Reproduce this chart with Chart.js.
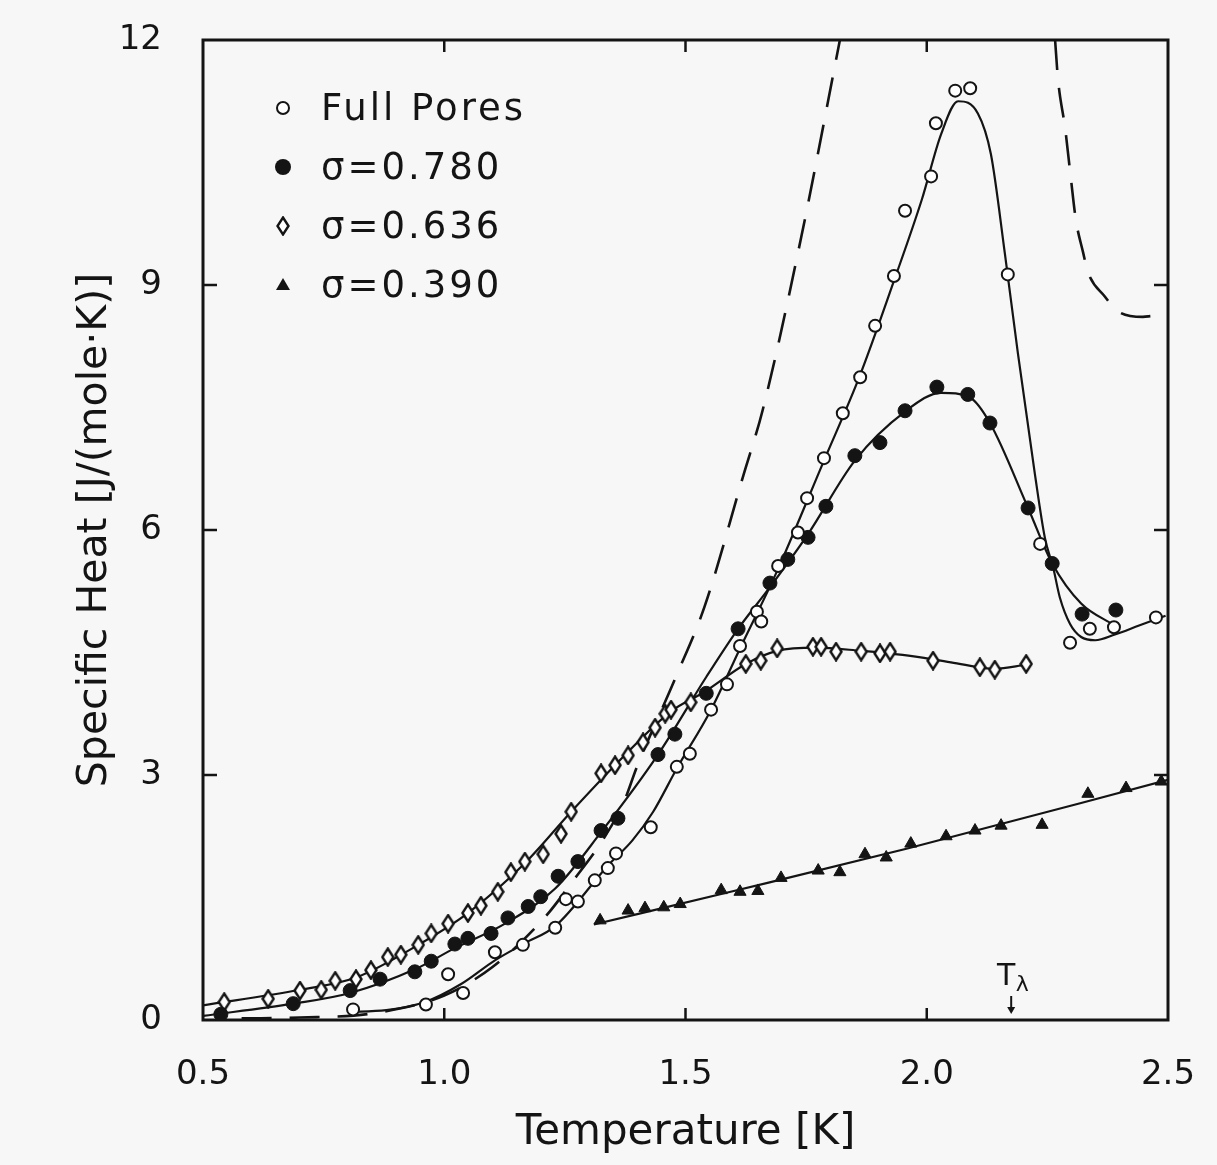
<!DOCTYPE html>
<html>
<head>
<meta charset="utf-8">
<script src="https://cdn.jsdelivr.net/npm/chart.js@4/dist/chart.umd.min.js"></script>
<style>
  html, body { margin: 0; padding: 0; background: #f7f7f7; }
  #wrap { width: 1217px; height: 1165px; }
</style>
</head>
<body>
<div id="wrap"><canvas id="heat" width="1217" height="1165"></canvas></div>
<script>
// measured points: temperature [K] and specific heat [J/(mole K)]
const fullT = [0.811, 0.962, 1.008, 1.039, 1.105, 1.163, 1.230, 1.252, 1.277, 1.312, 1.339, 1.356, 1.428, 1.482, 1.509,
  1.553, 1.586, 1.613, 1.648, 1.657, 1.692, 1.733, 1.752, 1.787, 1.826, 1.862, 1.893, 1.932, 1.955, 2.009, 2.019,
  2.059, 2.090, 2.168, 2.235, 2.297, 2.338, 2.388, 2.475];
const fullC = [0.13, 0.19, 0.56, 0.33, 0.83, 0.92, 1.13, 1.48, 1.45, 1.71, 1.86, 2.04, 2.36, 3.10, 3.26,
  3.80, 4.11, 4.58, 5.00, 4.88, 5.56, 5.97, 6.39, 6.88, 7.43, 7.87, 8.50, 9.11, 9.91, 10.33, 10.98,
  11.38, 11.41, 9.13, 5.83, 4.62, 4.79, 4.81, 4.93];

const s780T = [0.537, 0.687, 0.805, 0.867, 0.939, 0.973, 1.022, 1.049, 1.097, 1.132, 1.174, 1.200, 1.236, 1.277, 1.325,
  1.360, 1.443, 1.478, 1.543, 1.609, 1.675, 1.712, 1.754, 1.791, 1.851, 1.903, 1.955, 2.021, 2.085, 2.131, 2.210,
  2.260, 2.322, 2.392];
const s780C = [0.07, 0.20, 0.36, 0.50, 0.59, 0.72, 0.93, 1.00, 1.06, 1.25, 1.39, 1.51, 1.76, 1.94, 2.32,
  2.47, 3.25, 3.50, 4.00, 4.79, 5.35, 5.64, 5.91, 6.29, 6.91, 7.07, 7.46, 7.75, 7.66, 7.31, 6.27,
  5.59, 4.97, 5.02];

const s636T = [0.544, 0.635, 0.701, 0.745, 0.774, 0.817, 0.848, 0.883, 0.910, 0.946, 0.973, 1.008, 1.049, 1.076, 1.111,
  1.138, 1.167, 1.205, 1.242, 1.263, 1.325, 1.354, 1.381, 1.412, 1.437, 1.458, 1.470, 1.511, 1.625, 1.656, 1.690,
  1.764, 1.781, 1.812, 1.864, 1.903, 1.924, 2.013, 2.110, 2.141, 2.206];
const s636C = [0.22, 0.26, 0.36, 0.37, 0.48, 0.50, 0.61, 0.77, 0.80, 0.92, 1.06, 1.18, 1.31, 1.40, 1.57,
  1.81, 1.94, 2.03, 2.28, 2.55, 3.02, 3.12, 3.24, 3.40, 3.58, 3.75, 3.80, 3.89, 4.36, 4.40, 4.55,
  4.57, 4.57, 4.51, 4.51, 4.49, 4.51, 4.40, 4.32, 4.29, 4.36];

const s390T = [1.323, 1.381, 1.416, 1.455, 1.489, 1.574, 1.613, 1.650, 1.698, 1.775, 1.820, 1.872, 1.916, 1.967, 2.040,
  2.100, 2.154, 2.239, 2.334, 2.413, 2.486];
const s390C = [1.22, 1.34, 1.37, 1.38, 1.42, 1.59, 1.57, 1.58, 1.74, 1.83, 1.81, 2.03, 1.99, 2.16, 2.25,
  2.32, 2.38, 2.39, 2.77, 2.84, 2.92];

// smooth curves drawn through each set
const fullFitT = [0.80, 0.88, 0.96, 1.035, 1.105, 1.167, 1.23, 1.339, 1.39, 1.433, 1.482, 1.553, 1.613, 1.69, 1.787, 1.862,
  1.932, 1.99, 2.03, 2.065, 2.106, 2.133, 2.162, 2.189, 2.224, 2.245, 2.262, 2.276, 2.297, 2.32, 2.349, 2.39, 2.44, 2.495];
const fullFitC = [0.10, 0.12, 0.22, 0.44, 0.73, 0.94, 1.15, 1.89, 2.20, 2.55, 3.08, 3.80, 4.55, 5.50, 6.85, 7.90,
  9.05, 10.05, 10.85, 11.25, 11.10, 10.60, 9.38, 8.16, 6.69, 5.90, 5.54, 5.17, 4.85, 4.69, 4.65, 4.72, 4.83, 4.95];

const s780FitT = [0.5, 0.687, 0.805, 0.939, 1.022, 1.126, 1.23, 1.325, 1.443, 1.543, 1.609, 1.675, 1.754, 1.851, 1.955,
  2.03, 2.09, 2.131, 2.21, 2.26, 2.32, 2.39];
const s780FitC = [0.05, 0.20, 0.33, 0.62, 0.88, 1.18, 1.61, 2.30, 3.25, 4.20, 4.79, 5.30, 5.95, 6.85, 7.45,
  7.68, 7.62, 7.31, 6.27, 5.59, 5.10, 4.83];

const s636FitT = [0.5, 0.701, 0.817, 0.946, 1.049, 1.167, 1.263, 1.354, 1.47, 1.54, 1.625, 1.69, 1.77, 1.864, 1.95,
  2.05, 2.141, 2.206];
const s636FitC = [0.18, 0.37, 0.52, 0.92, 1.31, 1.92, 2.55, 3.12, 3.78, 4.02, 4.36, 4.52, 4.56, 4.52, 4.47,
  4.38, 4.30, 4.35];

const s390FitT = [1.31, 1.60, 1.96, 2.50];
const s390FitC = [1.17, 1.58, 2.10, 2.94];

// dashed bulk curve, below and above the lambda point
const bulkLowT = [0.58, 0.70, 0.85, 1.00, 1.10, 1.20, 1.25, 1.37, 1.40, 1.48, 1.54, 1.62, 1.66, 1.74, 1.82];
const bulkLowC = [0.02, 0.03, 0.08, 0.30, 0.65, 1.20, 1.57, 2.64, 3.11, 4.20, 5.07, 6.67, 7.47, 9.59, 12.0];
const bulkHighT = [2.266, 2.272, 2.287, 2.299, 2.309, 2.324, 2.334, 2.369, 2.396, 2.448, 2.465];
const bulkHighC = [12.0, 11.52, 10.91, 10.29, 9.80, 9.40, 9.16, 8.86, 8.68, 8.61, 8.62];

const xTicks = [0.5, 1.0, 1.5, 2.0, 2.5];
const yTicks = [0, 3, 6, 9, 12];
const T_LAMBDA = 2.175;

const legendLabels = ['Full Pores', 'σ=0.780', 'σ=0.636', 'σ=0.390'];

const INK = '#141414';
const FONT = 'DejaVu Sans';

const pts = (xs, ys) => xs.map((x, i) => ({ x, y: ys[i] }));

function diamondImg() {
  const c = document.createElement('canvas');
  c.width = 14; c.height = 20;
  const g = c.getContext('2d');
  g.beginPath();
  g.moveTo(7, 1.5); g.lineTo(12.5, 10); g.lineTo(7, 18.5); g.lineTo(1.5, 10); g.closePath();
  g.fillStyle = '#fff'; g.fill();
  g.lineWidth = 2.4; g.strokeStyle = INK; g.stroke();
  return c;
}
const diamond = diamondImg();

const markerSets = [
  { data: pts(fullT, fullC), pointStyle: 'circle', pointRadius: 6, pointBackgroundColor: '#fff', pointBorderWidth: 2 },
  { data: pts(s780T, s780C), pointStyle: 'circle', pointRadius: 7, pointBackgroundColor: INK, pointBorderWidth: 1 },
  { data: pts(s636T, s636C), pointStyle: diamond, pointRadius: 8, pointBackgroundColor: '#fff', pointBorderWidth: 0 },
  { data: pts(s390T, s390C), pointStyle: 'triangle', pointRadius: 7, pointBackgroundColor: INK, pointBorderWidth: 1 }
].map(d => Object.assign({ showLine: false, pointBorderColor: INK, pointHoverRadius: d.pointRadius }, d));

const curve = (xs, ys, dash) => ({
  data: pts(xs, ys), showLine: true, pointRadius: 0, borderColor: INK, borderWidth: dash ? 2.6 : 2.2,
  cubicInterpolationMode: 'monotone', borderDash: dash || []
});

const lineSets = [
  curve(fullFitT, fullFitC), curve(s780FitT, s780FitC), curve(s636FitT, s636FitC), curve(s390FitT, s390FitC),
  curve(bulkLowT, bulkLowC, [30, 18]), curve(bulkHighT, bulkHighC, [30, 18])
];

// box frame and inward tick marks
const framePlugin = {
  id: 'frame',
  afterDatasetsDraw(chart) {
    const { ctx, chartArea: a, scales } = chart;
    ctx.save();
    ctx.strokeStyle = INK;
    ctx.lineWidth = 2.5;
    xTicks.slice(1, -1).forEach(v => {
      const x = scales.x.getPixelForValue(v);
      ctx.beginPath();
      ctx.moveTo(x, a.bottom); ctx.lineTo(x, a.bottom - 12);
      ctx.moveTo(x, a.top); ctx.lineTo(x, a.top + 12);
      ctx.stroke();
    });
    yTicks.slice(1, -1).forEach(v => {
      const y = scales.y.getPixelForValue(v);
      ctx.beginPath();
      ctx.moveTo(a.left, y); ctx.lineTo(a.left + 14, y);
      ctx.moveTo(a.right, y); ctx.lineTo(a.right - 14, y);
      ctx.stroke();
    });
    ctx.lineWidth = 3;
    ctx.strokeRect(a.left, a.top, a.right - a.left, a.bottom - a.top);
    ctx.restore();
  }
};

// legend in the upper left of the plot
const legendPlugin = {
  id: 'innerLegend',
  afterDraw(chart) {
    const { ctx, chartArea: a } = chart;
    const mx = a.left + 80, tx = a.left + 118;
    ctx.save();
    ctx.fillStyle = INK; ctx.strokeStyle = INK;
    ctx.font = '37px "' + FONT + '"';
    ctx.textBaseline = 'middle';
    try { ctx.letterSpacing = '3px'; } catch (e) {}
    legendLabels.forEach((label, i) => {
      const y = a.top + 68 + i * 59;
      ctx.lineWidth = 2;
      if (i === 0) {
        ctx.beginPath(); ctx.arc(mx, y, 6, 0, Math.PI * 2);
        ctx.fillStyle = '#fff'; ctx.fill(); ctx.stroke();
      } else if (i === 1) {
        ctx.beginPath(); ctx.arc(mx, y, 8, 0, Math.PI * 2);
        ctx.fillStyle = INK; ctx.fill();
      } else if (i === 2) {
        ctx.drawImage(diamond, mx - 7, y - 10);
      } else {
        ctx.beginPath();
        ctx.moveTo(mx, y - 7); ctx.lineTo(mx + 7, y + 5); ctx.lineTo(mx - 7, y + 5); ctx.closePath();
        ctx.fillStyle = INK; ctx.fill();
      }
      ctx.fillStyle = INK;
      ctx.fillText(label, tx, y + 2);
    });
    ctx.restore();
  }
};

// T lambda marker above the x axis
const lambdaPlugin = {
  id: 'lambda',
  afterDraw(chart) {
    const { ctx, chartArea: a, scales } = chart;
    const x = scales.x.getPixelForValue(T_LAMBDA);
    ctx.save();
    ctx.fillStyle = INK; ctx.strokeStyle = INK;
    ctx.textBaseline = 'alphabetic';
    ctx.textAlign = 'center';
    ctx.font = '30px "' + FONT + '"';
    ctx.fillText('T', x - 5, a.bottom - 35);
    ctx.font = '22px "' + FONT + '"';
    ctx.fillText('λ', x + 11, a.bottom - 29);
    ctx.lineWidth = 2;
    ctx.beginPath(); ctx.moveTo(x, a.bottom - 24); ctx.lineTo(x, a.bottom - 8); ctx.stroke();
    ctx.beginPath();
    ctx.moveTo(x - 4, a.bottom - 13); ctx.lineTo(x, a.bottom - 6); ctx.lineTo(x + 4, a.bottom - 13); ctx.closePath();
    ctx.fill();
    ctx.restore();
  }
};

new Chart(document.getElementById('heat'), {
  type: 'scatter',
  data: { datasets: markerSets.concat(lineSets) },
  options: {
    responsive: false,
    animation: false,
    devicePixelRatio: 1,
    layout: { padding: { top: 40, right: 49, left: 0, bottom: 0 } },
    plugins: { legend: { display: false }, tooltip: { enabled: false } },
    scales: {
      x: {
        type: 'linear', min: 0.5, max: 2.5,
        grid: { display: false, drawTicks: false },
        border: { display: false },
        afterBuildTicks: s => { s.ticks = xTicks.map(v => ({ value: v })); },
        afterFit: s => { s.height = 145; s.paddingLeft = 0; s.paddingRight = 0; },
        ticks: { padding: 35, color: INK, font: { family: FONT, size: 34 }, callback: v => v.toFixed(1) },
        title: { display: true, text: 'Temperature [K]', color: INK, font: { family: FONT, size: 42 },
          padding: { top: 12, bottom: 7 } }
      },
      y: {
        type: 'linear', min: 0, max: 12,
        grid: { display: false, drawTicks: false },
        border: { display: false },
        afterBuildTicks: s => { s.ticks = yTicks.map(v => ({ value: v })); },
        afterFit: s => { s.width = 203; s.paddingTop = 0; s.paddingBottom = 0; },
        ticks: { padding: 41, color: INK, font: { family: FONT, size: 34 } },
        title: { display: true, text: 'Specific Heat [J/(mole·K)]', color: INK, font: { family: FONT, size: 41 },
          padding: { top: 71, bottom: 0 } }
      }
    }
  },
  plugins: [framePlugin, legendPlugin, lambdaPlugin]
});
</script>
</body>
</html>
